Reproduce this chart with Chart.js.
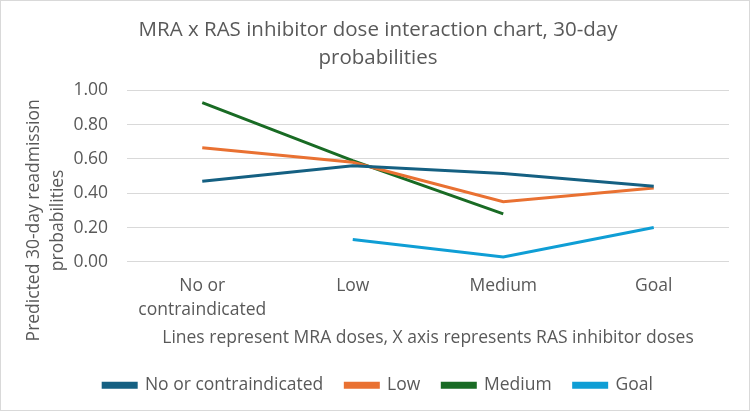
<!DOCTYPE html>
<html>
<head>
<meta charset="utf-8">
<script src="https://cdn.jsdelivr.net/npm/chart.js@4"></script>
<style>
  html, body { margin: 0; padding: 0; background: #fff; }
  .frame { width: 750px; height: 411px; box-sizing: border-box; border: 1px solid #D9D9D9; }
  canvas { display: block; }
</style>
</head>
<body>
<div class="frame"><canvas id="chart" width="748" height="409"></canvas></div>
<script>
// RAS inhibitor dose categories (x axis)
const categories = [['No or', 'contraindicated'], 'Low', 'Medium', 'Goal'];

// MRA dose lines, predicted 30-day readmission probabilities
const seriesNames = ['No or contraindicated', 'Low', 'Medium', 'Goal'];
const noneValues = [0.47, 0.56, 0.515, 0.44];
const lowValues = [0.665, 0.58, 0.35, 0.43];
const mediumValues = [0.927, 0.59, 0.28, null];
const goalValues = [null, 0.13, 0.028, 0.20];

const yTicks = [0, 0.2, 0.4, 0.6, 0.8, 1.0];

const textColor = '#595959';
const gridColor = '#D9D9D9';
const fontFamily = "'Open Sans', sans-serif";

// y axis title drawn by hand so it can sit centred on the whole lower area
const yTitlePlugin = {
  id: 'yTitle',
  afterDraw(chart) {
    const ctx = chart.ctx;
    const cy = (chart.chartArea.top + chart.scales.x.bottom) / 2 - 2;
    ctx.save();
    ctx.fillStyle = textColor;
    ctx.font = '17.5px ' + fontFamily;
    ctx.textAlign = 'center';
    ctx.textBaseline = 'middle';
    ctx.translate(33, cy);
    ctx.rotate(-Math.PI / 2);
    ctx.fillText('Predicted 30-day readmission', 0, 0);
    ctx.fillText('probabilities', 0, 24);
    ctx.restore();
  }
};

const lineSet = (label, data, color) => ({
  label: label,
  data: data,
  borderColor: color,
  backgroundColor: color,
  borderWidth: 3,
  pointRadius: 0,
  tension: 0,
  spanGaps: false
});

new Chart(document.getElementById('chart'), {
  type: 'line',
  data: {
    labels: categories,
    datasets: [
      lineSet(seriesNames[0], noneValues, '#156082'),
      lineSet(seriesNames[1], lowValues, '#E97132'),
      lineSet(seriesNames[2], mediumValues, '#196B24'),
      lineSet(seriesNames[3], goalValues, '#0F9ED5')
    ]
  },
  options: {
    responsive: false,
    animation: false,
    layout: { padding: { left: 26, right: 20, top: 10, bottom: 6 } },
    plugins: {
      title: {
        display: true,
        text: ['MRA x RAS inhibitor dose interaction chart, 30-day', 'probabilities'],
        color: textColor,
        font: { family: fontFamily, size: 20.5, weight: 'normal', lineHeight: 1.37 },
        padding: { top: 5, bottom: 18 }
      },
      legend: {
        position: 'bottom',
        labels: {
          color: textColor,
          font: { family: fontFamily, size: 17.5 },
          boxWidth: 33,
          boxHeight: 4,
          padding: 22
        }
      },
      tooltip: { enabled: false }
    },
    scales: {
      x: {
        offset: true,
        grid: { display: false },
        border: { display: false },
        ticks: {
          color: textColor,
          font: { family: fontFamily, size: 17.5, lineHeight: 1.36 },
          padding: 4,
          maxRotation: 0
        },
        title: {
          display: true,
          text: 'Lines represent MRA doses, X axis represents RAS inhibitor doses',
          color: textColor,
          font: { family: fontFamily, size: 17.5 },
          padding: { top: 2, bottom: 6 }
        }
      },
      y: {
        min: 0,
        max: 1,
        afterBuildTicks(axis) {
          axis.ticks = yTicks.map(v => ({ value: v }));
        },
        // fixed width leaves room for the hand drawn title
        afterFit(axis) {
          axis.width = 100;
        },
        grid: { color: gridColor, lineWidth: 1, drawTicks: false },
        border: { display: false },
        ticks: {
          color: textColor,
          font: { family: fontFamily, size: 17.5 },
          padding: 19,
          callback: v => v.toFixed(2)
        }
      }
    }
  },
  plugins: [yTitlePlugin]
});
</script>
</body>
</html>
